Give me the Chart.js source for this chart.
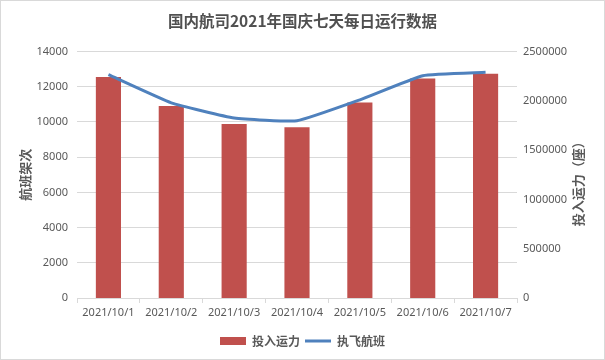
<!DOCTYPE html>
<html>
<head>
<meta charset="utf-8">
<script src="https://cdn.jsdelivr.net/npm/chart.js@4/dist/chart.umd.min.js"></script>
<style>
    body { margin: 0; background: #fff; }
</style>
</head>
<body>
<canvas id="opsChart" width="605" height="360"></canvas>
<script>
// Daily data
const dates = ['2021/10/1', '2021/10/2', '2021/10/3', '2021/10/4', '2021/10/5', '2021/10/6', '2021/10/7'];
const seats = [2242000, 1949000, 1765000, 1732000, 1983000, 2228000, 2276000];   // 投入运力 (bars, right axis)
const flights = [12690, 11090, 10230, 10070, 11260, 12630, 12820];               // 执飞航班 (line, left axis)

const leftAxisMax = 14000;
const leftAxisStep = 2000;
const rightAxisMax = 2500000;
const rightAxisStep = 500000;

const chartTitle = '国内航司2021年国庆七天每日运行数据';
const leftTitle = '航班架次';
const rightTitle = '投入运力（座）';

const textColor = '#595959';
const gridColor = '#d9d9d9';
const cjkFont = '"Noto Sans CJK SC", "Noto Sans", sans-serif';
const numFont = '"Noto Sans", "Noto Sans CJK SC", sans-serif';

// white background, thin frame and the right axis title (read bottom to top)
const decor = {
    id: 'decor',
    beforeDraw(chart) {
        const ctx = chart.ctx;
        ctx.save();
        ctx.fillStyle = '#fff';
        ctx.fillRect(0, 0, chart.width, chart.height);
        ctx.restore();
    },
    afterDraw(chart) {
        const ctx = chart.ctx;
        const area = chart.chartArea;
        ctx.save();
        ctx.strokeStyle = gridColor;
        ctx.lineWidth = 1;
        ctx.strokeRect(0.5, 0.5, chart.width - 1, chart.height - 1);

        ctx.translate(578, (area.top + area.bottom) / 2 + 6);
        ctx.rotate(-Math.PI / 2);
        ctx.fillStyle = textColor;
        ctx.font = 'bold 13px ' + cjkFont;
        ctx.textAlign = 'center';
        ctx.textBaseline = 'middle';
        ctx.fillText(rightTitle, 0, 0);
        ctx.restore();
    }
};

new Chart(document.getElementById('opsChart'), {
    data: {
        labels: dates,
        datasets: [
            {
                type: 'bar',
                label: '投入运力',
                data: seats,
                yAxisID: 'y1',
                backgroundColor: '#C0504D',
                barPercentage: 0.4,
                categoryPercentage: 1,
                pointStyle: 'rect',
                order: 1
            },
            {
                type: 'line',
                label: '执飞航班',
                data: flights,
                yAxisID: 'y',
                borderColor: '#4F81BD',
                backgroundColor: '#4F81BD',
                borderWidth: 3,
                pointRadius: 0,
                tension: 0.12,
                pointStyle: 'line',
                order: 0
            }
        ]
    },
    options: {
        responsive: false,
        animation: false,
        layout: { padding: { left: 0, right: 0, top: 0, bottom: 3 } },
        plugins: {
            title: {
                display: true,
                text: chartTitle,
                color: '#505050',
                font: { family: cjkFont, size: 15.5, weight: 'bold' },
                padding: { top: 12, bottom: 21 }
            },
            legend: {
                position: 'bottom',
                labels: {
                    usePointStyle: true,
                    pointStyleWidth: 26,
                    boxHeight: 8,
                    padding: 5,
                    color: textColor,
                    font: { family: cjkFont, size: 12, weight: 'bold' },
                    sort: (a, b) => a.datasetIndex - b.datasetIndex
                }
            },
            tooltip: { enabled: false }
        },
        scales: {
            x: {
                afterFit: s => { s.height = 32; },
                grid: {
                    offset: true,
                    drawOnChartArea: false,
                    tickLength: 5,
                    color: gridColor
                },
                border: { color: gridColor },
                ticks: {
                    color: textColor,
                    padding: 3,
                    maxRotation: 0,
                    font: { family: numFont, size: 11 }
                }
            },
            y: {
                position: 'left',
                min: 0,
                max: leftAxisMax,
                afterFit: s => { s.width = 77; },
                grid: { color: gridColor, drawTicks: false },
                border: { display: false },
                ticks: {
                    stepSize: leftAxisStep,
                    padding: 9,
                    color: textColor,
                    font: { family: numFont, size: 11 },
                    callback: v => String(v)
                },
                title: {
                    display: true,
                    text: leftTitle,
                    color: textColor,
                    font: { family: cjkFont, size: 13, weight: 'bold' },
                    padding: { top: 17, bottom: 0 }
                }
            },
            y1: {
                position: 'right',
                min: 0,
                max: rightAxisMax,
                afterFit: s => { s.width = 88; },
                grid: { display: false, drawTicks: false },
                border: { display: false },
                ticks: {
                    stepSize: rightAxisStep,
                    padding: 6,
                    color: textColor,
                    font: { family: numFont, size: 11 },
                    callback: v => String(v)
                }
            }
        }
    },
    plugins: [decor]
});
</script>
</body>
</html>
